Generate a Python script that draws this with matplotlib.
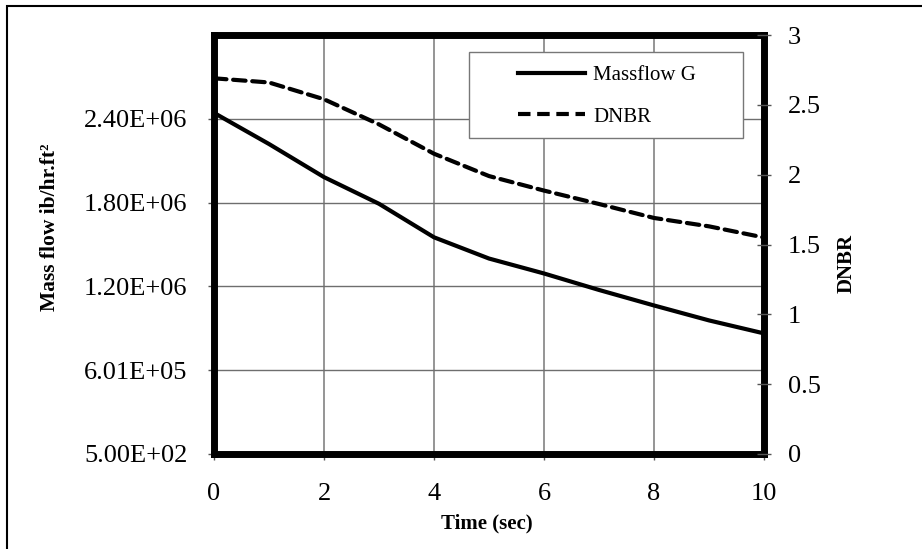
import matplotlib
matplotlib.use("Agg")
import matplotlib.pyplot as plt
from matplotlib.patches import Rectangle
from matplotlib.lines import Line2D

# data
time_s = [0, 1, 2, 3, 4, 5, 6, 7, 8, 9, 10]
massflow = [2.443e6, 2.22e6, 1.983e6, 1.792e6, 1.552e6, 1.40e6,
            1.293e6, 1.175e6, 1.064e6, 0.957e6, 0.864e6]
dnbr = [2.69, 2.66, 2.54, 2.36, 2.15, 1.99, 1.886, 1.79, 1.69, 1.63, 1.55]

left_ticks = [500, 600500, 1200500, 1800500, 2400500]
left_labels = ["5.00E+02", "6.01E+05", "1.20E+06", "1.80E+06", "2.40E+06"]
right_ticks = [0, 0.5, 1, 1.5, 2, 2.5, 3]
right_labels = ["0", "0.5", "1", "1.5", "2", "2.5", "3"]
x_ticks = [0, 2, 4, 6, 8, 10]

plt.rcParams["font.family"] = ["Liberation Serif", "DejaVu Serif"]

W, H = 922, 549
fig = plt.figure(figsize=(W / 100, H / 100), dpi=100)
fig.patch.set_facecolor("white")


def fx(px):
    return px / W


def fy(py):
    return 1 - py / H


# outer chart border (cropped at right/bottom)
fig.patches.append(Rectangle((fx(7), -0.05), 1.2, fy(6) + 0.05, transform=fig.transFigure,
                             fill=False, lw=1.5, edgecolor="black", zorder=0))

ax = fig.add_axes([fx(214), fy(454), fx(764) - fx(214), fy(35) - fy(454)])
ax2 = ax.twinx()

ax.plot(time_s, massflow, color="black", lw=3, solid_capstyle="butt", zorder=3)
ax2.plot(time_s, dnbr, color="black", lw=3, linestyle=(0, (3, 1.6)),
         dash_capstyle="round", zorder=3)

ax.set_xlim(0, 10)
ax.set_ylim(500, 3000500)
ax2.set_ylim(0, 3)

ax.set_xticks(x_ticks)
ax.set_xticklabels([str(t) for t in x_ticks])
ax.set_yticks(left_ticks)
ax.set_yticklabels(left_labels)
ax2.set_yticks(right_ticks)
ax2.set_yticklabels(right_labels)

ax.grid(True, axis="y", color="#6e6e6e", lw=1.0)
ax.grid(True, axis="x", color="#8c8c8c", lw=1.3)
ax.set_axisbelow(True)

ax.tick_params(axis="x", direction="out", length=4, width=1, color="#555555",
               labelsize=19, pad=17)
ax.tick_params(axis="y", direction="out", length=4, width=1, color="#555555",
               labelsize=19, pad=15)
ax2.tick_params(axis="y", direction="inout", length=10, width=1, color="#555555",
                labelsize=19, pad=12)

for sp in ax.spines.values():
    sp.set_linewidth(5)
    sp.set_capstyle("projecting")
for sp in ax2.spines.values():
    sp.set_visible(False)

fig.text(fx(50), fy(227), "Mass flow ib/hr.ft²", rotation=90, ha="center", va="center",
         fontsize=15.5, fontweight="bold")
fig.text(fx(847), fy(263), "DNBR", rotation=90, ha="center", va="center",
         fontsize=15, fontweight="bold")
fig.text(fx(487), fy(523), "Time (sec)", ha="center", va="center",
         fontsize=15, fontweight="bold")

# legend box
fig.patches.append(Rectangle((fx(469), fy(138)), fx(743) - fx(469), fy(52) - fy(138),
                             transform=fig.transFigure, facecolor="white",
                             edgecolor="#777777", lw=1.0, zorder=4))
handles = [Line2D([], [], color="black", lw=3),
           Line2D([], [], color="black", lw=3, linestyle=(0, (3, 1.6)))]
fig.legend(handles, ["Massflow G", "DNBR"], loc="center left",
           bbox_to_anchor=(fx(508), fy(96)), frameon=False, fontsize=15,
           borderpad=0, handlelength=3.2, handletextpad=0.4, labelspacing=1.05)

fig.savefig("out.png", dpi=100)
